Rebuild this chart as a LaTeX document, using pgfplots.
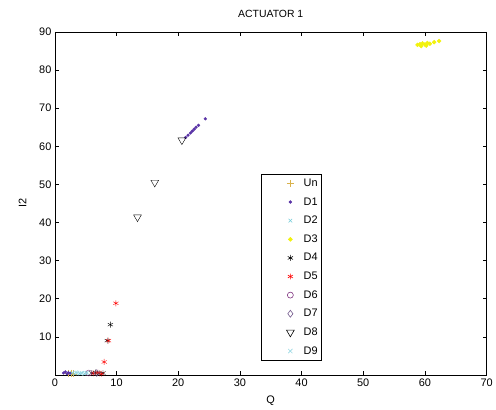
\documentclass[border=0pt]{standalone}
\usepackage{pgfplots}
\pgfplotsset{compat=1.18}
\usepackage{fontspec}
\setmainfont{Liberation Sans}
\definecolor{unc}{rgb}{0.85,0.7,0.3}
\definecolor{d1c}{rgb}{0.35,0.2,0.65}
\definecolor{d2c}{rgb}{0.45,0.8,0.85}
\definecolor{d3c}{rgb}{0.95,0.95,0.05}
\definecolor{d6c}{rgb}{0.5,0.2,0.5}
\definecolor{d7c}{rgb}{0.45,0.35,0.55}
\definecolor{d9c}{rgb}{0.6,0.85,0.9}
\begin{document}
\begin{tikzpicture}
\begin{axis}[
  at={(0,0)}, anchor=south west,
  scale only axis, width=433bp, height=344bp,
  xmin=0, xmax=70, ymin=0, ymax=90,
  xtick={0,10,...,70}, ytick={10,20,...,90},
  tick align=inside, tick pos=both,
  major tick length=4bp,
  every tick/.style={black, line width=0.5pt},
  axis line style={line width=0.6pt},
  tick label style={font=\fontsize{11}{12}\selectfont},
  /pgf/number format/assume math mode=true,
  title={ACTUATOR 1}, title style={font=\fontsize{10.5}{12}\selectfont, yshift=5bp},
  xlabel={Q}, ylabel={I2},
  label style={font=\fontsize{11}{12}\selectfont},
  xlabel style={yshift=-3bp},
  ylabel style={yshift=6bp},
  legend style={at={(0.478,0.041)}, anchor=south west, font=\fontsize{11}{12}\selectfont,
    draw=black, line width=0.6pt, inner xsep=2pt, inner ysep=3pt, row sep=5.6bp,
    legend cell align=left, nodes={inner xsep=2pt}},
  legend image code/.code={\path[draw=none,fill=none] (0cm,0cm) (1.35cm,0cm); \draw[#1] plot coordinates {(0.95cm,0cm)};},
]
\addplot[only marks, mark=+, mark size=3.5pt, color=unc] coordinates {(2.2,0.4) (2.6,0.5) (3.0,0.3)};
\addlegendentry{Un}
\addplot[only marks, mark=*, mark size=1.4pt, color=d1c] coordinates {
(1.4,0.5) (1.7,0.8) (2.0,0.3) (2.2,0.6) (2.5,0.4)
(21.2,62.3) (21.6,62.9) (22.0,63.5) (22.3,64.0) (22.6,64.5) (22.9,65.0) (23.3,65.5) (24.4,67.2)};
\addlegendentry{D1}
\addplot[only marks, mark=x, mark size=2.5pt, color=d2c] coordinates {
(2.8,0.5) (3.2,0.3) (3.6,0.6) (4.0,0.4) (4.4,0.5) (4.8,0.3) (5.2,0.6)};
\addlegendentry{D2}
\addplot[only marks, mark=*, mark size=2pt, color=d3c] coordinates {
(58.8,86.6) (59.2,86.8) (59.6,87.0) (60.0,86.7) (60.4,87.1) (60.8,86.9) (59.4,86.3) (60.2,86.4) (61.5,87.3) (62.3,87.6)};
\addlegendentry{D3}
\addplot[only marks, mark=asterisk, mark size=3pt, color=black] coordinates {
(9.0,13.2) (8.5,9.0) (6.0,0.5) (6.6,0.6) (7.2,0.4) (7.8,0.5)};
\addlegendentry{D4}
\addplot[only marks, mark=asterisk, mark size=3pt, color=red] coordinates {
(9.9,18.8) (8.7,9.0) (8.0,3.4) (6.3,0.4) (7.0,0.6) (7.6,0.3)};
\addlegendentry{D5}
\addplot[only marks, mark=o, mark size=3pt, color=d6c] coordinates {(5.5,0.5)};
\addlegendentry{D6}
\addplot[only marks, mark=diamond, mark size=3.5pt, color=d7c] coordinates {(6.8,0.5)};
\addlegendentry{D7}
\addplot[only marks, mark=triangle, mark options={rotate=180}, mark size=4.5pt, color=black] coordinates {
(13.4,41.4) (16.2,50.5) (20.6,61.6)};
\addlegendentry{D8}
\addplot[only marks, mark=x, mark size=3pt, color=d9c] coordinates {(3.4,0.6) (4.2,0.4) (5.0,0.5)};
\addlegendentry{D9}
\end{axis}
\useasboundingbox (-55bp,-35bp) rectangle (441bp,376bp);
\end{tikzpicture}
\end{document}
